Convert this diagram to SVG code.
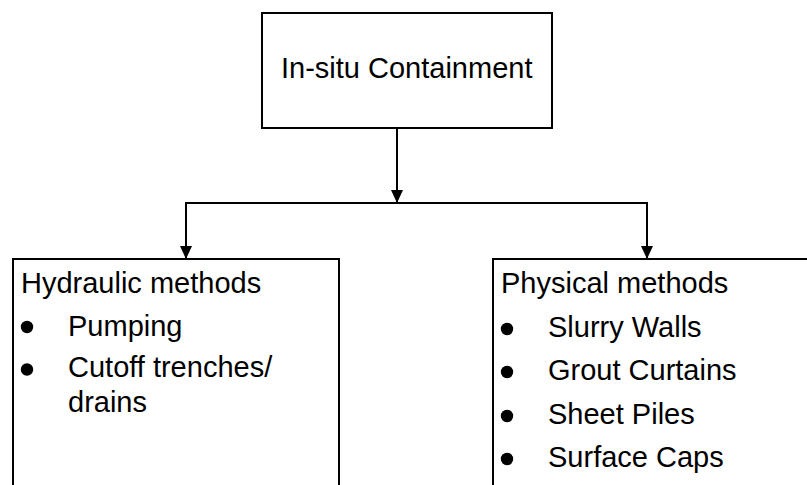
<svg xmlns="http://www.w3.org/2000/svg" width="807" height="485" viewBox="0 0 807 485">
  <style>
    .box { fill: #ffffff; stroke: #000000; stroke-width: 2; }
    .wire { fill: none; stroke: #000000; stroke-width: 2; }
    .label { font-family: "Liberation Sans", Arial, sans-serif; font-size: 29px; fill: #000000; }
    .dot { fill: #000000; }
  </style>
  <defs>
    <marker id="arrow" markerWidth="13" markerHeight="12" refX="13" refY="6" orient="auto" markerUnits="userSpaceOnUse">
      <path d="M0,0 L13,6 L0,12 Z" fill="#000000"/>
    </marker>
  </defs>
  <rect width="807" height="485" fill="#ffffff"/>

  <g id="connectors">
    <!-- trunk from the top box down to the branch line -->
    <line class="wire" x1="397" y1="128" x2="397" y2="203" marker-end="url(#arrow)"/>
    <!-- branch line -->
    <line class="wire" x1="185" y1="203" x2="648" y2="203"/>
    <!-- drops into the two method boxes -->
    <line class="wire" x1="186" y1="203" x2="186" y2="259" marker-end="url(#arrow)"/>
    <line class="wire" x1="647" y1="203" x2="647" y2="259" marker-end="url(#arrow)"/>
  </g>

  <g id="in-situ-containment">
    <rect class="box" x="262" y="13" width="290" height="115"/>
    <text class="label" x="281" y="78">In-situ Containment</text>
  </g>

  <g id="hydraulic-methods">
    <rect class="box" x="13" y="259" width="326" height="240"/>
    <text class="label" x="21" y="293">Hydraulic methods</text>
    <circle class="dot" cx="27" cy="327" r="6.2"/>
    <text class="label" x="68" y="336">Pumping</text>
    <circle class="dot" cx="27" cy="369.5" r="6.2"/>
    <text class="label" x="68" y="377">Cutoff trenches/</text>
    <text class="label" x="68" y="412">drains</text>
  </g>

  <g id="physical-methods">
    <rect class="box" x="493" y="259" width="330" height="240"/>
    <text class="label" x="501" y="293">Physical methods</text>
    <circle class="dot" cx="507" cy="329" r="6.2"/>
    <text class="label" x="548" y="337">Slurry Walls</text>
    <circle class="dot" cx="507" cy="372" r="6.2"/>
    <text class="label" x="548" y="380">Grout Curtains</text>
    <circle class="dot" cx="507" cy="416" r="6.2"/>
    <text class="label" x="548" y="424">Sheet Piles</text>
    <circle class="dot" cx="507" cy="459" r="6.2"/>
    <text class="label" x="548" y="467">Surface Caps</text>
  </g>
</svg>
